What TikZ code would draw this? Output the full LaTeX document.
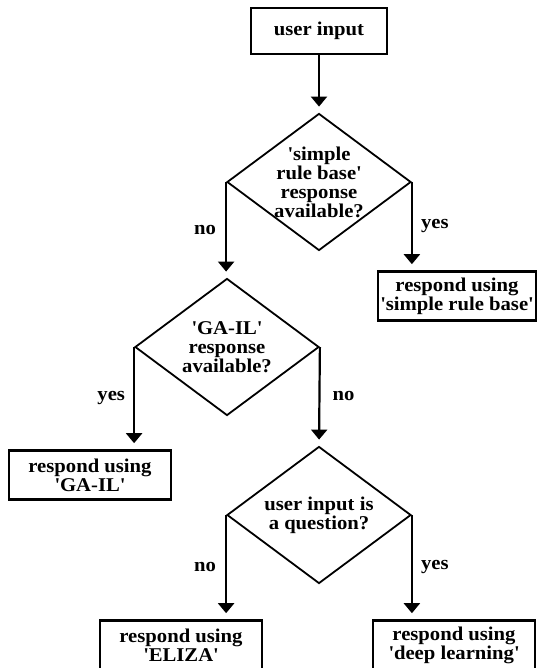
\documentclass[tikz,border=0pt]{standalone}
\usepackage{fontspec}
\setmainfont[FakeStretch=1.06]{Liberation Serif}
\usepackage{tikz}
\usetikzlibrary{arrows.meta,shapes.geometric}

\newcommand{\sq}{\textquotesingle}

\begin{document}
\begin{tikzpicture}[
    x=1pt, y=-1pt,
    every node/.style={font=\fontsize{19.5}{19}\selectfont\bfseries, align=center, inner sep=0pt},
    stepbox/.style={rectangle, draw, line width=2.6pt, minimum height=49pt},
    query/.style={diamond, draw, line width=1.8pt, minimum width=184pt, minimum height=137pt, aspect=1.34, inner sep=-14pt},
    arr/.style={-{Triangle[width=16pt,length=10pt]}, line width=2.2pt, shorten >=6pt},
    lbl/.style={font=\fontsize{19.5}{19}\selectfont\bfseries}
]
\useasboundingbox (0,0) rectangle (537,668);

% ---- boxes and questions ----
\node[stepbox, minimum width=136pt, minimum height=46pt] (input) at (319,31) {user input};
\node[query] (q1) at (319,182) {\sq simple\\ rule base\sq\\ response\\ available?};
\node[query] (q2) at (227,347) {\sq GA-IL\sq\\ response\\ available?};
\node[query] (q3) at (319,515) {user input is\\ a question?};
\node[stepbox, minimum width=158pt] (rsimple) at (457,296) {respond using\\ \sq simple rule base\sq};
\node[stepbox, minimum width=162pt] (rgail) at (90,475) {respond using\\ \sq GA-IL\sq};
\node[stepbox, minimum width=162pt] (reliza) at (181,645) {respond using\\ \sq ELIZA\sq};
\node[stepbox, minimum width=162pt] (rdeep) at (454,645) {respond using\\ \sq deep learning\sq};

% ---- connectors ----
\draw[arr] (input) -- (q1);
\draw[arr] (q1.west) -- node[lbl, left=9pt] (no1) {no} (q1.west |- q2.north);
\draw[arr] (q1.east) -- node[lbl, right=8pt] (yes1) {yes} (q1.east |- rsimple.north);
\draw[arr] (q2.west) -- node[lbl, left=8pt] (yes2) {yes} (q2.west |- rgail.north);
\draw[arr] (q2.east) -- node[lbl, right=12pt] (no2) {no} (q3.north);
\draw[arr] (q3.west) -- node[lbl, left=9pt] (no3) {no} (q3.west |- reliza.north);
\draw[arr] (q3.east) -- node[lbl, right=8pt] (yes3) {yes} (q3.east |- rdeep.north);
\end{tikzpicture}
\end{document}
